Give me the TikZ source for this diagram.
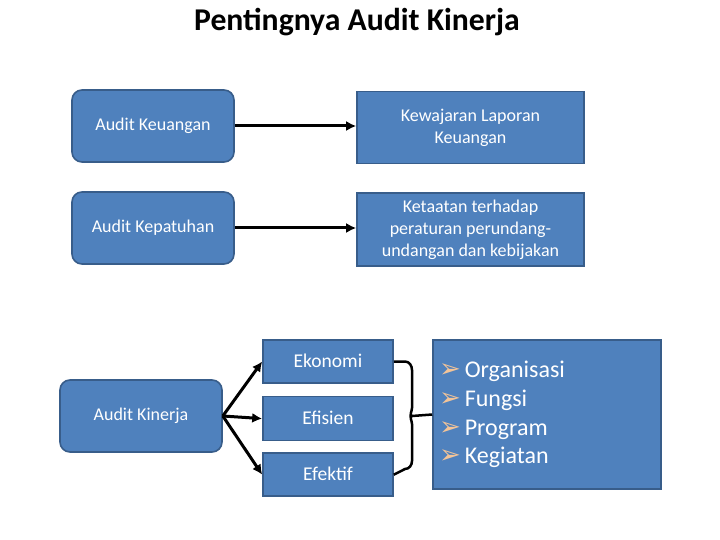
\documentclass[tikz,border=0pt]{standalone}
\usepackage{fontspec}
\setmainfont{Carlito}
\newfontfamily\dejavu{DejaVu Sans}
\usepackage{xcolor}
\usetikzlibrary{positioning, arrows.meta}

\definecolor{boxfill}{RGB}{79,129,189}
\definecolor{boxline}{RGB}{56,93,138}
\definecolor{bulletc}{RGB}{243,196,152}
\newcommand{\blt}{{\dejavu\color{bulletc}\fontsize{26}{20}\selectfont ➢}\,}

\begin{document}
\begin{tikzpicture}[x=1pt, y=-1pt, >={Latex[length=10pt,width=10pt]},
    box/.style={draw=boxline, fill=boxfill, line width=1.6pt, text=white, align=center,
        font=\fontsize{18}{22}\selectfont},
    rbox/.style={box, rounded corners=10pt, minimum width=162pt, minimum height=72pt},
    mbox/.style={box, minimum width=130pt, text height=13pt, text depth=2pt, font=\fontsize{19.5}{22}\selectfont},
    arr/.style={->, line width=3pt}]
        \useasboundingbox (0,0) rectangle (720,540);

        % Title
        \node (title) at (357,22) {\fontsize{31.7}{36}\selectfont\bfseries Pentingnya Audit Kinerja};

        % Nodes
        \node (ak) [rbox] at (153,126) {Audit Keuangan};
        \node (kl) [box, minimum width=227pt, minimum height=72pt] at (470.5,127.5) {Kewajaran Laporan\\Keuangan};
        \node (akp) [rbox] at (153,228) {Audit Kepatuhan};
        \node (kt) [box, minimum width=227pt, minimum height=73pt] at (470.5,229.5) {Ketaatan terhadap\\peraturan perundang-\\undangan dan kebijakan};
        \node (akn) [rbox] at (141,416) {Audit Kinerja};
        \node (eko) [mbox, minimum height=43pt] at (328,361.5) {Ekonomi};
        \node (efs) [mbox, minimum height=44pt, below=12pt of eko] {Efisien};
        \node (efk) [mbox, minimum height=43pt, below=11pt of efs] {Efektif};
        \node (lst) [box, minimum width=228pt, minimum height=149pt, text width=216pt, inner xsep=6pt,
            align=left, font=\fontsize{24}{28.7}\selectfont] at (547,414.5)
            {\blt Organisasi\\ \blt Fungsi\\ \blt Program\\ \blt Kegiatan};
        \coordinate (tip) at (412,416);

        % Arrows
        \draw[arr] (ak) -- (kl.west |- ak);
        \draw[arr] (akp) -- (kt.west |- akp);
        \draw[arr] (akn.east) -- (eko.west);
        \draw[arr] (akn.east) -- (efs.west);
        \draw[arr] (akn.east) -- (efk.west);

        % Brace
        \draw[line width=2.5pt] (eko.east) -- (405,361.5) to[out=0,in=90] (412,370) -- (412,408)
            to[out=-90,in=180] (tip) -- (lst.west);
        \draw[line width=2.5pt] (efk.east) -- (405,469) to[out=0,in=-90] (412,461) -- (412,424)
            to[out=90,in=180] (tip);

    \end{tikzpicture}
\end{document}
